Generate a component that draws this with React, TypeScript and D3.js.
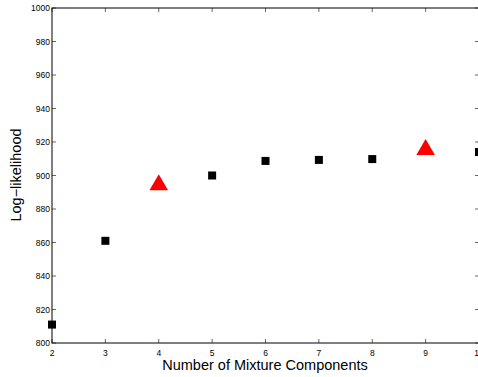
import React from "react";
import * as d3 from "d3";

// Log-likelihood against the number of mixture components
const components = [2, 3, 4, 5, 6, 7, 8, 9, 10];
const logLik = [811, 861, 895, 900, 908.7, 909.3, 909.8, 916, 914];
// components marked with a red triangle instead of a square
const highlighted = [4, 9];

const xTicks = [2, 3, 4, 5, 6, 7, 8, 9, 10];
const yTicks = [800, 820, 840, 860, 880, 900, 920, 940, 960, 980, 1000];

const W = 478;
const H = 377;
const left = 52;
const right = 479;
const top = 8;
const bottom = 343;

export default function App() {
  const x = d3.scaleLinear().domain([2, 10]).range([left, right]);
  const y = d3.scaleLinear().domain([800, 1000]).range([bottom, top]);
  const tri = d3.symbol().type(d3.symbolTriangle).size(150)();
  const font = "'Liberation Sans', Arial, sans-serif";
  const tl = 4;

  return (
    <svg
      width={W}
      height={H}
      style={{ position: "absolute", left: 0, top: 0, background: "#fff" }}
      fontFamily={font}
    >
      <rect x={0} y={0} width={W} height={H} fill="#fff" />
      {/* ticks on all four sides, pointing inward */}
      {xTicks.map((t) => (
        <g key={"x" + t}>
          <line x1={x(t)} x2={x(t)} y1={bottom} y2={bottom - tl} stroke="#000" strokeWidth={0.6} />
          <line x1={x(t)} x2={x(t)} y1={top} y2={top + tl} stroke="#000" strokeWidth={0.6} />
          <text x={x(t)} y={356} fontSize={8.5} textAnchor="middle" fill="#000">
            {t}
          </text>
        </g>
      ))}
      {yTicks.map((t) => (
        <g key={"y" + t}>
          <line x1={left} x2={left + tl} y1={y(t)} y2={y(t)} stroke="#000" strokeWidth={0.6} />
          <line x1={right} x2={right - tl} y1={y(t)} y2={y(t)} stroke="#000" strokeWidth={0.6} />
          <text x={left - 2} y={y(t) + 3} fontSize={8.5} textAnchor="end" fill="#000">
            {t}
          </text>
        </g>
      ))}
      <rect
        x={left}
        y={top}
        width={right - left}
        height={bottom - top}
        fill="none"
        stroke="#000"
        strokeWidth={1}
      />
      {components.map((c, i) =>
        highlighted.includes(c) ? (
          <path
            key={c}
            d={tri || ""}
            transform={`translate(${x(c)},${y(logLik[i]) + 1})`}
            fill="#ff0000"
          />
        ) : (
          <rect key={c} x={x(c) - 4} y={y(logLik[i]) - 4} width={8} height={8} fill="#000" />
        )
      )}
      <text x={265} y={370} fontSize={14.5} textAnchor="middle" fill="#000">
        Number of Mixture Components
      </text>
      <text
        transform={`translate(21,175) rotate(-90)`}
        fontSize={14.5}
        textAnchor="middle"
        fill="#000"
      >
        Log−likelihood
      </text>
    </svg>
  );
}
